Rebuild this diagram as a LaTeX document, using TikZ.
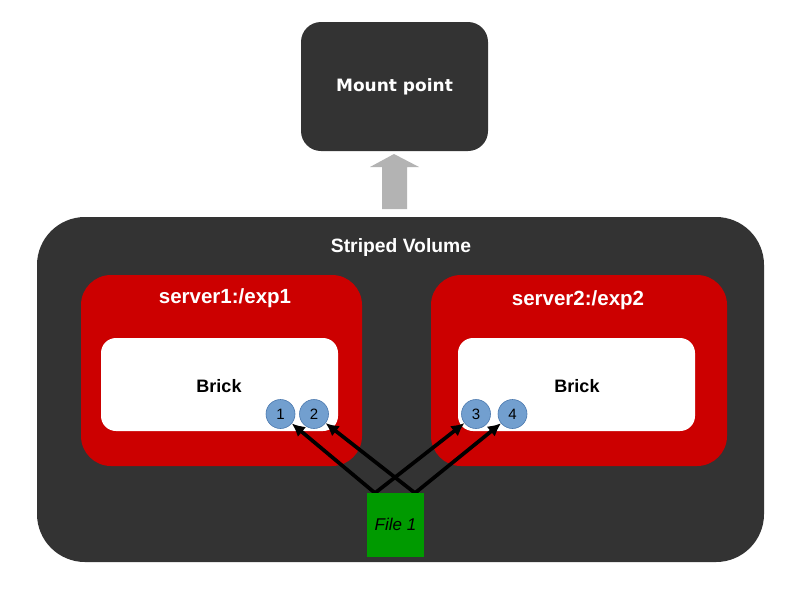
\documentclass[tikz,border=0pt]{standalone}
\usepackage{fontspec}
\setmainfont{Liberation Sans}
\newfontfamily\mountfont{DejaVu Sans}
\usetikzlibrary{arrows.meta,positioning}

\definecolor{volgray}{HTML}{333333}
\definecolor{brickred}{HTML}{CC0000}
\definecolor{chunkblue}{HTML}{729FCF}
\definecolor{chunkedge}{HTML}{4A78AE}
\definecolor{filegreen}{HTML}{009A00}
\definecolor{upgray}{HTML}{B3B3B3}

\tikzset{
	box/.style={inner sep=0pt, anchor=center},
	title/.style={text=white, font=\fontsize{20.5}{23}\selectfont\bfseries},
	chunk/.style={circle, fill=chunkblue, draw=chunkedge, line width=0.6pt,
		minimum size=29pt, inner sep=0pt, font=\fontsize{15}{17}\selectfont},
	stripe/.style={-{Latex[length=13pt,width=13pt]}, line width=3.7pt, draw=black},
}

\begin{document}
\begin{tikzpicture}[x=1pt, y=-1pt]
	\useasboundingbox (0,0) rectangle (794,595);
	\fill[white] (0,0) rectangle (794,595);

	% mount point and the arrow up to it
	\node[box, fill=volgray, rounded corners=20pt, minimum width=187pt, minimum height=129pt,
		text=white, font=\fontsize{17}{20}\selectfont\mountfont\bfseries] (mount) at (394.5,86.5) {Mount point};
	\fill[upgray] (382,209) -- (382,167) -- (370,167) -- (394,154) -- (419,167) -- (407,167) -- (407,209) -- cycle;

	% volume
	\node[box, fill=volgray, rounded corners=48pt, minimum width=727pt, minimum height=345pt] (vol) at (400.5,389.5) {};
	\node[title, font=\fontsize{19.3}{22}\selectfont\bfseries] (voltitle) at (401,248) {Striped Volume};

	% servers
	\node[box, fill=brickred, rounded corners=30pt, minimum width=281pt, minimum height=191pt] (srv1) at (221.5,370.5) {};
	\node[box, fill=brickred, rounded corners=30pt, minimum width=296pt, minimum height=191pt] (srv2) at (579,370.5) {};
	\node[title] (srv1title) at (225,298) {server1:/exp1};
	\node[title] (srv2title) at (578,300) {server2:/exp2};

	% bricks
	\node[box, fill=white, rounded corners=15pt, minimum width=237pt, minimum height=93pt] (brick1) at (219.5,384.5) {};
	\node[box, fill=white, rounded corners=15pt, minimum width=237pt, minimum height=93pt] (brick2) at (576.5,384.5) {};
	\node[font=\fontsize{18}{21}\selectfont\bfseries] (brick1text) at (219,386) {Brick};
	\node[font=\fontsize{18}{21}\selectfont\bfseries] (brick2text) at (577,386) {Brick};

	% chunks
	\node[chunk] (c1) at (280.5,414) {1};
	\node[chunk] (c2) at (314,414) {2};
	\node[chunk] (c3) at (476,414) {3};
	\node[chunk] (c4) at (512.5,414) {4};

	% stripes of the file
	\coordinate (fa) at (375,493);
	\coordinate (fb) at (415,493);
	\draw[stripe] (fa) -- (c1);
	\draw[stripe] (fa) -- (c3);
	\draw[stripe] (fb) -- (c2);
	\draw[stripe] (fb) -- (c4);

	\node[box, fill=filegreen, minimum width=57pt, minimum height=64pt,
		font=\fontsize{17}{20}\selectfont\itshape] (file) at (395.5,524.5) {File 1};
\end{tikzpicture}
\end{document}
